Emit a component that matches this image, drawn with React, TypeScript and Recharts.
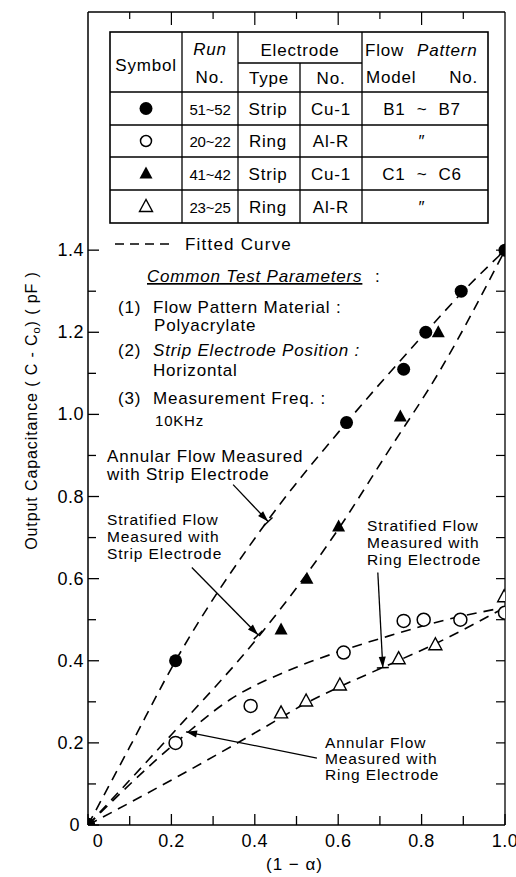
import React from 'react';
import { ComposedChart, XAxis, YAxis, Line, Scatter, ReferenceLine, Label } from 'recharts';

const FONT = '"Liberation Sans", Arial, Helvetica, sans-serif';

// ---------- axis ticks ----------
const xTickValues = [0, 0.1, 0.2, 0.3, 0.4, 0.5, 0.6, 0.7, 0.8, 0.9, 1.0];
const xTickLabels = ['0', '0.2', '0.4', '0.6', '0.8', '1.0'];
const yTickValues = [0, 0.1, 0.2, 0.3, 0.4, 0.5, 0.6, 0.7, 0.8, 0.9, 1.0, 1.1, 1.2, 1.3, 1.4];
const yTickLabels = ['0', '0.2', '0.4', '0.6', '0.8', '1.0', '1.2', '1.4'];
const topTickValues = [0.1, 0.2, 0.3, 0.4, 0.5, 0.6, 0.7, 0.8, 0.9];
const rightTickValues = [0.1, 0.2, 0.3, 0.4, 0.5, 0.6, 0.7, 0.8, 0.9, 1.0, 1.1, 1.2, 1.3, 1.4];
const xDomain = [0, 1];
const yDomain = [0, 1.98];

// ---------- measured points ----------
const annularStripPts = [
  { x: 0, y: 0 }, { x: 0.21, y: 0.4 }, { x: 0.62, y: 0.98 }, { x: 0.757, y: 1.11 },
  { x: 0.81, y: 1.2 }, { x: 0.895, y: 1.3 }, { x: 1.0, y: 1.4 },
];
const annularRingPts = [
  { x: 0, y: 0 }, { x: 0.21, y: 0.2 }, { x: 0.39, y: 0.29 }, { x: 0.613, y: 0.42 },
  { x: 0.757, y: 0.497 }, { x: 0.805, y: 0.5 }, { x: 0.893, y: 0.5 }, { x: 1.0, y: 0.517 },
];
const stratStripPts = [
  { x: 0, y: 0 }, { x: 0.463, y: 0.476 }, { x: 0.525, y: 0.6 }, { x: 0.601, y: 0.727 },
  { x: 0.749, y: 0.995 }, { x: 0.84, y: 1.2 }, { x: 1.0, y: 1.4 },
];
const stratRingPts = [
  { x: 0, y: 0 }, { x: 0.463, y: 0.273 }, { x: 0.523, y: 0.302 }, { x: 0.604, y: 0.341 },
  { x: 0.745, y: 0.405 }, { x: 0.833, y: 0.439 }, { x: 0.998, y: 0.556 },
];

// ---------- fitted curves ----------
const fitAnnularStrip = [
  { x: 0, y: 0 }, { x: 0.1, y: 0.19 }, { x: 0.21, y: 0.4 }, { x: 0.43, y: 0.74 },
  { x: 0.62, y: 0.98 }, { x: 0.81, y: 1.2 }, { x: 0.9, y: 1.3 }, { x: 1.0, y: 1.4 },
];
const fitStratStrip = [
  { x: 0, y: 0 }, { x: 0.2, y: 0.22 }, { x: 0.41, y: 0.46 }, { x: 0.52, y: 0.605 },
  { x: 0.6, y: 0.72 }, { x: 0.72, y: 0.91 }, { x: 0.84, y: 1.1 }, { x: 1.0, y: 1.4 },
];
const fitAnnularRing = [
  { x: 0, y: 0 }, { x: 0.21, y: 0.2 }, { x: 0.34, y: 0.305 }, { x: 0.485, y: 0.378 },
  { x: 0.61, y: 0.425 }, { x: 0.72, y: 0.46 }, { x: 0.86, y: 0.5 }, { x: 1.0, y: 0.53 },
];
const fitStratRing = [
  { x: 0, y: 0 }, { x: 0.21, y: 0.115 }, { x: 0.41, y: 0.23 }, { x: 0.52, y: 0.295 },
  { x: 0.6, y: 0.335 }, { x: 0.71, y: 0.385 }, { x: 0.83, y: 0.44 }, { x: 1.0, y: 0.53 },
];

// ---------- annotation arrows (data coords) ----------
const arrowAnnularStrip = [{ x: 0.348, y: 0.829 }, { x: 0.432, y: 0.739 }];
const arrowStratStrip = [{ x: 0.249, y: 0.627 }, { x: 0.408, y: 0.463 }];
const arrowStratRing = [{ x: 0.695, y: 0.615 }, { x: 0.707, y: 0.383 }];
const arrowAnnularRing = [{ x: 0.549, y: 0.163 }, { x: 0.235, y: 0.227 }];

// ---------- table ----------
const tableSymbols = ['filledCircle', 'openCircle', 'filledTriangle', 'openTriangle'];
const tableRunNos = ['51~52', '20~22', '41~42', '23~25'];
const tableTypes = ['Strip', 'Ring', 'Strip', 'Ring'];
const tableElectrodeNos = ['Cu-1', 'Al-R', 'Cu-1', 'Al-R'];
const tablePatternNos = ['B1  ~  B7', '″', 'C1  ~  C6', '″'];

const findLabel = (labels: string[], v: number) =>
  labels.find((l) => Math.abs(parseFloat(l) - v) < 1e-6);

const TICK_FONT = 18;

const LeftTick = (props: any) => {
  const { x, y, payload } = props;
  const lab = findLabel(yTickLabels, payload.value);
  return (
    <g>
      <line x1={x} y1={y} x2={x + (lab ? 11 : 8)} y2={y} stroke="#000" strokeWidth={1.3} />
      {lab && (
        <text x={x - (payload.value === 0 ? 8 : 4)} y={y + 6} textAnchor="end" fontFamily={FONT}
          fontSize={TICK_FONT} letterSpacing={0.5} fill="#000">{lab}</text>
      )}
    </g>
  );
};
const BottomTick = (props: any) => {
  const { x, y, payload } = props;
  const lab = findLabel(xTickLabels, payload.value);
  return (
    <g>
      <line x1={x} y1={y} x2={x} y2={y - (lab ? 11 : 9)} stroke="#000" strokeWidth={1.3} />
      {lab && (
        <text x={x + (payload.value === 0 ? 10 : 0)} y={y + 22} textAnchor="middle" fontFamily={FONT}
          fontSize={TICK_FONT} letterSpacing={0.5} fill="#000">{lab}</text>
      )}
    </g>
  );
};
const TopTick = (props: any) => {
  const { x, y, index } = props;
  return <line x1={x} y1={y} x2={x} y2={y + (index % 2 === 1 ? 13 : 7)} stroke="#000" strokeWidth={1.2} />;
};
const RightTick = (props: any) => {
  const { x, y } = props;
  return <line x1={x} y1={y} x2={x - 9} y2={y} stroke="#000" strokeWidth={1.2} />;
};

const FilledCircle = (p: any) => <circle cx={p.cx} cy={p.cy} r={6.5} fill="#000" />;
const OpenCircle = (p: any) => (
  <circle cx={p.cx} cy={p.cy} r={6.5} fill="#fff" stroke="#000" strokeWidth={1.5} />
);
const triPts = (cx: number, cy: number) =>
  `${cx},${cy - 7} ${cx - 6.5},${cy + 5} ${cx + 6.5},${cy + 5}`;
const FilledTriangle = (p: any) => <polygon points={triPts(p.cx, p.cy)} fill="#000" />;
const OpenTriangle = (p: any) => (
  <polygon points={triPts(p.cx, p.cy)} fill="#fff" stroke="#000" strokeWidth={1.4} />
);
const NoMark = () => <g />;

const Arrow = (p: any) => {
  const { x1, y1, x2, y2, tbar } = p;
  const dx = x2 - x1;
  const dy = y2 - y1;
  const len = Math.hypot(dx, dy) || 1;
  const ux = dx / len;
  const uy = dy / len;
  const nx = -uy;
  const ny = ux;
  const L = 11;
  const W = 3.5;
  const bx = x2 - ux * L;
  const by = y2 - uy * L;
  return (
    <g>
      <line x1={x1} y1={y1} x2={x2} y2={y2} stroke="#000" strokeWidth={1.3} />
      <polygon points={`${x2},${y2} ${bx + nx * W},${by + ny * W} ${bx - nx * W},${by - ny * W}`} fill="#000" />
      {tbar && (
        <line x1={x2 + nx * 6} y1={y2 + ny * 6} x2={x2 - nx * 6} y2={y2 - ny * 6} stroke="#000" strokeWidth={1.5} />
      )}
    </g>
  );
};

const SymbolGlyph = ({ kind, cx, cy }: { kind: string; cx: number; cy: number }) => {
  if (kind === 'filledCircle') return <FilledCircle cx={cx} cy={cy} />;
  if (kind === 'openCircle') return <circle cx={cx} cy={cy} r={5.5} fill="#fff" stroke="#000" strokeWidth={1.5} />;
  if (kind === 'filledTriangle') return <FilledTriangle cx={cx} cy={cy} />;
  return <OpenTriangle cx={cx} cy={cy} />;
};

const T = (p: any) => (
  <text fontFamily={FONT} fontSize={17} letterSpacing={0.8} fill="#000" {...p} />
);
const TA = (p: any) => (
  <text fontFamily={FONT} fontSize={15.5} letterSpacing={0.9} fill="#000" {...p} />
);

const lineCommon = {
  xAxisId: 'b',
  yAxisId: 'l',
  dataKey: 'y',
  type: 'monotone' as const,
  stroke: '#000',
  strokeWidth: 1.6,
  strokeDasharray: '10 7',
  dot: false,
  activeDot: false,
  isAnimationActive: false,
  legendType: 'none' as const,
};

export default function App() {
  const rowTop = [92, 125, 157, 190];
  const rowBottom = [125, 157, 190, 223];
  return (
    <div style={{ position: 'absolute', left: 0, top: 0, width: 516, height: 877, background: '#fff' }}>
      <ComposedChart width={516} height={877} margin={{ top: 11, right: 10, bottom: 0, left: 0 }}>
        <XAxis xAxisId="b" dataKey="x" type="number" domain={xDomain} ticks={xTickValues} interval={0}
          height={52} tickSize={0} tickMargin={0} tickLine={false} tick={BottomTick}
          axisLine={{ stroke: '#000', strokeWidth: 1.5 }} allowDataOverflow>
          <Label content={(p: any) => {
            const vb = p.viewBox || { x: 88, y: 825, width: 417, height: 52 };
            return (
              <text x={vb.x + vb.width / 2 - 2} y={vb.y + 45} textAnchor="middle" fontFamily={FONT}
                fontSize={17} letterSpacing={1} fill="#000">(1 − α)</text>
            );
          }} />
        </XAxis>
        <XAxis xAxisId="t" dataKey="x" orientation="top" type="number" domain={xDomain} ticks={topTickValues}
          interval={0} height={1} tickSize={0} tickMargin={0} tickLine={false} tick={TopTick}
          axisLine={{ stroke: '#000', strokeWidth: 1.3 }} allowDataOverflow />
        <YAxis yAxisId="l" dataKey="y" type="number" domain={yDomain} ticks={yTickValues} interval={0}
          width={88} tickSize={0} tickMargin={0} tickLine={false} tick={LeftTick}
          axisLine={{ stroke: '#000', strokeWidth: 1.5 }} allowDataOverflow>
          <Label content={(p: any) => {
            const vb = p.viewBox || { x: 0, y: 12, width: 88, height: 813 };
            const cx = vb.x + 33;
            const cy = vb.y + vb.height / 2 - 8;
            return (
              <text x={cx} y={cy} transform={`rotate(-90 ${cx} ${cy})`} textAnchor="middle"
                dominantBaseline="middle" fontFamily={FONT} fontSize={16} letterSpacing={0.9} fill="#000">
                Output  Capacitance ( C - C<tspan dy={4} fontSize={11}>o</tspan>
                <tspan dy={-4}>) ( pF )</tspan>
              </text>
            );
          }} />
        </YAxis>
        <YAxis yAxisId="r" dataKey="y" orientation="right" type="number" domain={yDomain} ticks={rightTickValues}
          interval={0} width={1} tickSize={0} tickMargin={0} tickLine={false} tick={RightTick}
          axisLine={{ stroke: '#000', strokeWidth: 1.3 }} allowDataOverflow />

        <Line {...lineCommon} data={fitAnnularStrip} name="fitAnnularStrip" />
        <Line {...lineCommon} data={fitStratStrip} name="fitStratStrip" />
        <Line {...lineCommon} data={fitAnnularRing} name="fitAnnularRing" />
        <Line {...lineCommon} data={fitStratRing} name="fitStratRing" />

        <ReferenceLine xAxisId="b" yAxisId="l" segment={arrowAnnularStrip} ifOverflow="visible"
          shape={(p: any) => <Arrow {...p} tbar />} />
        <ReferenceLine xAxisId="b" yAxisId="l" segment={arrowStratStrip} ifOverflow="visible"
          shape={(p: any) => <Arrow {...p} tbar />} />
        <ReferenceLine xAxisId="b" yAxisId="l" segment={arrowStratRing} ifOverflow="visible"
          shape={(p: any) => <Arrow {...p} tbar />} />
        <ReferenceLine xAxisId="b" yAxisId="l" segment={arrowAnnularRing} ifOverflow="visible"
          shape={(p: any) => <Arrow {...p} />} />

        {/* invisible series so the frame axes (top / right) are drawn */}
        <Scatter xAxisId="t" yAxisId="r" data={annularStripPts} shape={NoMark} isAnimationActive={false} legendType="none" />

        <Scatter xAxisId="b" yAxisId="l" data={annularRingPts} shape={OpenCircle} isAnimationActive={false} legendType="none" />
        <Scatter xAxisId="b" yAxisId="l" data={stratRingPts} shape={OpenTriangle} isAnimationActive={false} legendType="none" />
        <Scatter xAxisId="b" yAxisId="l" data={stratStripPts} shape={FilledTriangle} isAnimationActive={false} legendType="none" />
        <Scatter xAxisId="b" yAxisId="l" data={annularStripPts} shape={FilledCircle} isAnimationActive={false} legendType="none" />
      </ComposedChart>

      <svg width={516} height={877} style={{ position: 'absolute', left: 0, top: 0, pointerEvents: 'none' }}>
        {/* symbol table */}
        <rect x={110} y={32} width={378} height={191} fill="#fff" stroke="#000" strokeWidth={1.6} />
        {[182, 238, 362].map((x) => (
          <line key={`v${x}`} x1={x} y1={32} x2={x} y2={223} stroke="#000" strokeWidth={1.3} />
        ))}
        <line x1={300} y1={63} x2={300} y2={223} stroke="#000" strokeWidth={1.3} />
        <line x1={238} y1={63} x2={362} y2={63} stroke="#000" strokeWidth={1.3} />
        {[92, 125, 157, 190].map((y) => (
          <line key={`h${y}`} x1={110} y1={y} x2={488} y2={y} stroke="#000" strokeWidth={1.3} />
        ))}
        <T x={146} y={71} textAnchor="middle">Symbol</T>
        <T x={210} y={55} textAnchor="middle" fontStyle="italic">Run</T>
        <T x={210} y={83} textAnchor="middle">No.</T>
        <T x={300} y={56} textAnchor="middle">Electrode</T>
        <T x={269} y={84} textAnchor="middle">Type</T>
        <T x={331} y={84} textAnchor="middle">No.</T>
        <T x={365} y={56}>Flow</T>
        <T x={417} y={56} fontStyle="italic">Pattern</T>
        <T x={366} y={83}>Model</T>
        <T x={478} y={83} textAnchor="end">No.</T>
        {tableSymbols.map((k, i) => {
          const cy = (rowTop[i] + rowBottom[i]) / 2;
          return (
            <g key={`row${i}`}>
              <SymbolGlyph kind={k} cx={146} cy={cy} />
              <T x={210} y={cy + 6} textAnchor="middle" fontSize={15} letterSpacing={-0.2}>{tableRunNos[i]}</T>
              <T x={268} y={cy + 6} textAnchor="middle">{tableTypes[i]}</T>
              <T x={331} y={cy + 6} textAnchor="middle">{tableElectrodeNos[i]}</T>
              <T x={422} y={cy + 6} textAnchor="middle" style={{ whiteSpace: 'pre' }}>{tablePatternNos[i]}</T>
            </g>
          );
        })}

        {/* fitted curve legend */}
        <line x1={115} y1={244} x2={170} y2={244} stroke="#000" strokeWidth={1.5} strokeDasharray="9 6" />
        <T x={185} y={250} letterSpacing={1.2}>Fitted  Curve</T>

        {/* common test parameters */}
        <T x={147} y={282} fontStyle="italic" textDecoration="underline">Common Test Parameters</T>
        <T x={375} y={282}>:</T>
        <T x={118} y={313}>(1)</T>
        <T x={153} y={313}>Flow Pattern Material :</T>
        <T x={154} y={331}>Polyacrylate</T>
        <T x={118} y={356}>(2)</T>
        <T x={153} y={356} fontStyle="italic">Strip Electrode Position :</T>
        <T x={153} y={376}>Horizontal</T>
        <T x={118} y={404}>(3)</T>
        <T x={153} y={404}>Measurement Freq. :</T>
        <T x={155} y={426} fontSize={15}>10KHz</T>

        {/* curve annotations */}
        <T x={107} y={462}>Annular Flow Measured</T>
        <T x={107} y={480}>with Strip Electrode</T>
        <TA x={107} y={525}>Stratified Flow</TA>
        <TA x={107} y={542}>Measured with</TA>
        <TA x={107} y={559}>Strip Electrode</TA>
        <TA x={367} y={531}>Stratified Flow</TA>
        <TA x={367} y={548}>Measured with</TA>
        <TA x={367} y={565}>Ring Electrode</TA>
        <TA x={325} y={748}>Annular Flow</TA>
        <TA x={325} y={764}>Measured with</TA>
        <TA x={325} y={780}>Ring Electrode</TA>
      </svg>
    </div>
  );
}
